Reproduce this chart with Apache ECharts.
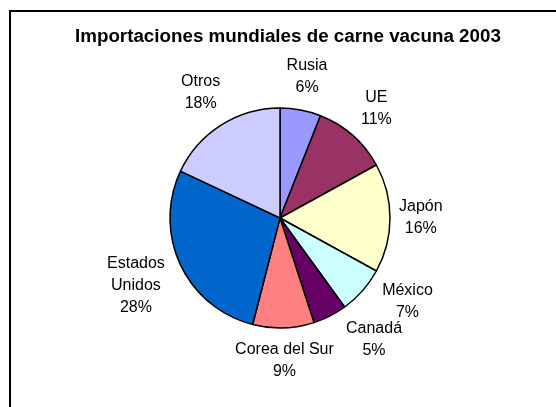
<!DOCTYPE html>
<html>
<head>
<meta charset="utf-8">
<script src="https://cdn.jsdelivr.net/npm/echarts@6/dist/echarts.min.js"></script>
<style>
  html, body { margin: 0; padding: 0; background: #fff; }
  #chart { width: 556px; height: 407px; }
</style>
</head>
<body>
<div id="chart"></div>
<script>
const titleText = 'Importaciones mundiales de carne vacuna 2003';
const categories = ['Rusia', 'UE', 'Japón', 'México', 'Canadá', 'Corea del Sur', 'Estados\nUnidos', 'Otros'];
const shares = [6, 11, 16, 7, 5, 9, 28, 18];
const colors = ['#9999FF', '#993366', '#FFFFCC', '#CCFFFF', '#660066', '#FF8080', '#0066CC', '#CCCCFF'];

const CX = 280, CY = 218, R = 110, GAP = 9;
const LABEL_FONT = 16, LINE_H = 22;
const total = shares.reduce((a, b) => a + b, 0);

const labelText = (i) => categories[i] + '\n' + Math.round(shares[i] / total * 100) + '%';

// measure label boxes so they can be set just outside the pie
const measure = document.createElement('canvas').getContext('2d');
measure.font = LABEL_FONT + 'px "Liberation Sans"';

function labelBox(i, angle) {
  const lines = labelText(i).split('\n');
  const w = Math.max(...lines.map(l => measure.measureText(l).width));
  const h = lines.length * LINE_H;
  const ux = Math.sin(angle), uy = -Math.cos(angle);
  const d = R + GAP + Math.abs(ux) * w / 2 + Math.abs(uy) * h / 2;
  return {x: CX + d * ux, y: CY + d * uy, w: w, h: h};
}
const overlaps = (a, b) =>
  Math.abs(a.x - b.x) < (a.w + b.w) / 2 + 12 && Math.abs(a.y - b.y) < (a.h + b.h) / 2 - 6;

// start at each slice's middle angle; when neighbours collide, the one
// nearer the side of the pie (more free room) turns away from the other
const labelAngles = [];
let acc = 0;
shares.forEach(v => { labelAngles.push((acc + v / 2) / total * Math.PI * 2); acc += v; });
const STEP = 0.25 * Math.PI / 180;
for (let it = 0; it < 400; it++) {
  let moved = false;
  for (let i = 0; i < shares.length; i++) {
    const j = (i + 1) % shares.length;
    if (overlaps(labelBox(i, labelAngles[i]), labelBox(j, labelAngles[j]))) {
      if (Math.abs(Math.sin(labelAngles[i])) >= Math.abs(Math.sin(labelAngles[j]))) {
        labelAngles[i] -= STEP;
      } else {
        labelAngles[j] += STEP;
      }
      moved = true;
    }
  }
  if (!moved) break;
}
const labelBoxes = shares.map((v, i) => labelBox(i, labelAngles[i]));

const chart = echarts.init(document.getElementById('chart'), null, {renderer: 'canvas'});

chart.setOption({
  animation: false,
  backgroundColor: '#fff',
  title: {
    text: titleText,
    left: 70,
    top: 22,
    textStyle: {
      fontFamily: 'Liberation Sans',
      fontSize: 18.8,
      fontWeight: 'bold',
      color: '#000'
    }
  },
  graphic: [{
    type: 'rect',
    shape: {x: 10, y: 11, width: 600, height: 450},
    style: {fill: 'none', stroke: '#000', lineWidth: 2},
    silent: true
  }],
  series: [{
    type: 'pie',
    center: [CX, CY],
    radius: R,
    startAngle: 90,
    clockwise: true,
    avoidLabelOverlap: false,
    emphasis: {disabled: true},
    itemStyle: {borderColor: '#000', borderWidth: 1.5},
    label: {
      show: true,
      position: 'outside',
      fontFamily: 'Liberation Sans',
      fontSize: LABEL_FONT,
      lineHeight: LINE_H,
      color: '#000',
      formatter: (p) => labelText(p.dataIndex)
    },
    labelLine: {show: false},
    labelLayout: (params) => {
      const b = labelBoxes[params.dataIndex];
      return {x: b.x, y: b.y, align: 'center', verticalAlign: 'middle'};
    },
    data: categories.map((name, i) => ({
      name: name,
      value: shares[i],
      itemStyle: {color: colors[i]}
    }))
  }]
});
</script>
</body>
</html>
